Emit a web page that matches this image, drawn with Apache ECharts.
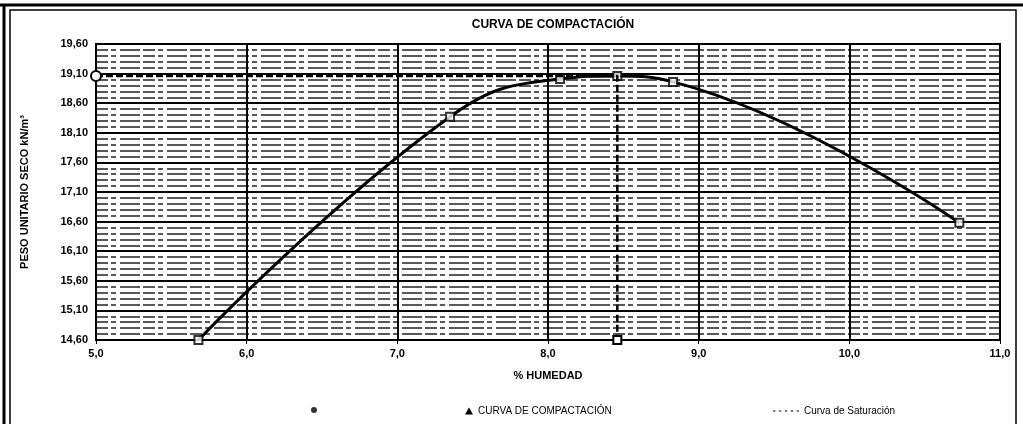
<!DOCTYPE html>
<html>
<head>
<meta charset="utf-8">
<script src="https://cdn.jsdelivr.net/npm/echarts@6/dist/echarts.min.js"></script>
<style>
  html, body { margin: 0; padding: 0; background: #fff; }
  #chart { width: 1023px; height: 424px; }
</style>
</head>
<body>
<div id="chart"></div>
<script>
// puntos del ensayo (humedad %, peso unitario seco kN/m3)
const humedad = [5.68, 7.35, 8.08, 8.46, 8.83, 10.73];
const pesoSeco = [14.60, 18.37, 19.01, 19.06, 18.96, 16.58];

// lineas de densidad maxima / humedad optima
const satX = [5.0, 8.46, 8.46];
const satY = [19.06, 19.06, 14.60];

const xTicks = [5, 6, 7, 8, 9, 10, 11];
const yTicks = [14.6, 15.1, 15.6, 16.1, 16.6, 17.1, 17.6, 18.1, 18.6, 19.1, 19.6];

const font = "'Liberation Sans', Arial, sans-serif";
const narrow = "'Liberation Sans Narrow', 'Liberation Sans', Arial, sans-serif";

const comma = (v, d) => v.toFixed(d).replace(".", ",");
const isTick = (v) => yTicks.some(t => Math.abs(t - v) < 1e-6);

const puntos = humedad.map((x, i) => [x, pesoSeco[i]]);
const saturacion = satX.map((x, i) => {
  const item = { value: [x, satY[i]], symbol: "none" };
  if (i === 0) { item.symbol = "emptyCircle"; item.symbolSize = 10; }
  if (i === satX.length - 1) { item.symbol = "emptyRect"; item.symbolSize = 8; }
  return item;
});

const chart = echarts.init(document.getElementById("chart"));

chart.setOption({
  animation: false,
  backgroundColor: "#fff",
  title: {
    text: "CURVA DE COMPACTACIÓN",
    left: 548,
    textAlign: "center",
    top: 14,
    textStyle: { fontFamily: font, fontSize: 12, fontWeight: "bold", color: "#000" }
  },
  grid: {
    left: 96, right: 23, top: 44, bottom: 84,
    show: true, borderColor: "#000", borderWidth: 2, backgroundColor: "#fff"
  },
  legend: [
    {
      left: 306, top: 402, itemWidth: 6, itemHeight: 6,
      data: [{ name: "Puntos", icon: "circle", itemStyle: { color: "#000", borderWidth: 0 } }],
      formatter: () => "",
      textStyle: { fontFamily: narrow, fontSize: 10 }
    },
    {
      left: 460, top: 401, itemWidth: 8, itemHeight: 7, itemGap: 4,
      data: [{ name: "CURVA DE COMPACTACIÓN", icon: "triangle" }],
      textStyle: { fontFamily: narrow, fontSize: 10, color: "#000" }
    },
    {
      left: 768, top: 401, itemWidth: 26, itemHeight: 2,
      data: [{ name: "Curva de Saturación", icon: "path://M0,0h2v1h-2zM5,0h2v1h-2zM10,0h2v1h-2zM15,0h2v1h-2zM20,0h2v1h-2z" }],
      textStyle: { fontFamily: narrow, fontSize: 10, color: "#000" }
    }
  ],
  xAxis: {
    type: "value",
    min: 5, max: 11, interval: 1,
    name: "% HUMEDAD",
    nameLocation: "middle",
    nameGap: 30,
    nameTextStyle: { fontFamily: font, fontSize: 11, fontWeight: "bold", color: "#000" },
    axisLine: { lineStyle: { color: "#000", width: 2 } },
    axisTick: { show: true, length: 4, lineStyle: { color: "#000" } },
    axisLabel: {
      fontFamily: font, fontSize: 11, fontWeight: "bold", color: "#000", margin: 8,
      formatter: (v) => xTicks.includes(v) ? comma(v, 1) : ""
    },
    splitLine: { show: true, lineStyle: { color: "#000", width: 2 } }
  },
  yAxis: {
    type: "value",
    min: 14.6, max: 19.6, interval: 0.1,
    name: "PESO UNITARIO SECO kN/m³",
    nameLocation: "middle",
    nameGap: 66,
    nameTextStyle: { fontFamily: font, fontSize: 11, fontWeight: "bold", color: "#000" },
    axisLine: { show: true, lineStyle: { color: "#000", width: 2 } },
    axisTick: { show: false },
    axisLabel: {
      fontFamily: font, fontSize: 11, fontWeight: "bold", color: "#000", margin: 8,
      formatter: (v) => isTick(v) ? comma(v, 2) : ""
    },
    splitLine: { show: true, lineStyle: { color: "#222", width: 1.5, type: [12, 3, 5, 4, 20, 3] } }
  },
  series: [
    {
      name: "grilla",
      type: "line",
      data: [],
      silent: true,
      markLine: {
        silent: true,
        symbol: "none",
        label: { show: false },
        lineStyle: { color: "#000", width: 2, type: "solid" },
        data: yTicks.map(v => ({ yAxis: v }))
      }
    },
    {
      name: "Curva de Saturación",
      type: "line",
      data: saturacion,
      clip: false,
      z: 6,
      color: "#000",
      lineStyle: { color: "#000", width: 2.5, type: [7, 3] },
      itemStyle: { color: "#000", borderWidth: 1.5 }
    },
    {
      name: "CURVA DE COMPACTACIÓN",
      type: "line",
      data: puntos,
      smooth: 0.45,
      showSymbol: false,
      z: 4,
      color: "#000",
      lineStyle: { color: "#000", width: 3 }
    },
    {
      name: "Puntos",
      type: "scatter",
      data: puntos,
      clip: false,
      z: 5,
      symbol: "rect",
      symbolSize: 8,
      color: "#000",
      itemStyle: { color: "#fff", borderColor: "#000", borderWidth: 2 }
    }
  ],
  graphic: [
    { type: "line", shape: { x1: 0, y1: 5, x2: 1023, y2: 5 }, style: { stroke: "#000", lineWidth: 3 } },
    { type: "line", shape: { x1: 4, y1: 5, x2: 4, y2: 424 }, style: { stroke: "#000", lineWidth: 3 } },
    { type: "rect", shape: { x: 10, y: 10, width: 1006, height: 420 }, style: { fill: null, stroke: "#000", lineWidth: 1.5 } }
  ]
});
</script>
</body>
</html>
